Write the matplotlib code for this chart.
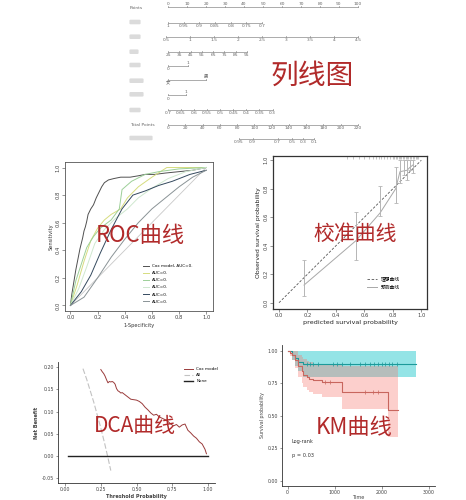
import matplotlib
matplotlib.use('Agg')
import matplotlib.pyplot as plt
from matplotlib.patches import FancyBboxPatch
import numpy as np

plt.rcParams['font.family'] = ['DejaVu Sans', 'Noto Sans CJK SC']

W, H = 466, 500
RED = '#b12a2a'

# ---------------- nomogram data ----------------
points_ticks = [0, 10, 20, 30, 40, 50, 60, 70, 80, 90, 100]
v1_ticks = [1, 0.95, 0.9, 0.85, 0.8, 0.75, 0.7]
v2_ticks = [0.5, 1, 1.5, 2, 2.5, 3, 3.5, 4, 4.5]
v3_ticks = [25, 35, 45, 55, 65, 75, 85, 95]
v4_labels = ['0', '1']
v5_labels = ['女', '男']
v6_labels = ['0', '1']
v7_ticks = [0.7, 0.65, 0.6, 0.55, 0.5, 0.45, 0.4, 0.35, 0.3]
total_ticks = [0, 20, 40, 60, 80, 100, 120, 140, 160, 180, 200, 220]
prob_labels = [0.95, 0.9, 0.7, 0.5, 0.3, 0.1]
prob_total = [82, 98, 127, 144, 156, 169]

# ---------------- ROC data ----------------
cox_fpr = [0, 0.01, 0.02, 0.03, 0.04, 0.05, 0.06, 0.07, 0.08, 0.09, 0.1, 0.11, 0.12, 0.13,
           0.15, 0.17, 0.19, 0.21, 0.23, 0.25, 0.28, 0.32, 0.37, 0.44, 0.5, 0.55, 0.62,
           0.7, 0.8, 0.9, 1.0]
cox_tpr = [0, 0.08, 0.14, 0.2, 0.26, 0.31, 0.36, 0.41, 0.45, 0.49, 0.54, 0.57, 0.61, 0.66,
           0.7, 0.73, 0.78, 0.82, 0.86, 0.89, 0.91, 0.92, 0.93, 0.93, 0.94, 0.95, 0.95,
           0.96, 0.97, 0.98, 1.0]
m2_fpr = [0, 0.05, 0.1, 0.15, 0.2, 0.25, 0.3, 0.37, 0.42, 0.5, 0.6, 0.71, 0.8, 1.0]
m2_tpr = [0, 0.15, 0.32, 0.47, 0.56, 0.62, 0.66, 0.7, 0.78, 0.86, 0.93, 1.0, 1.0, 1.0]
m3_fpr = [0, 0.04, 0.08, 0.12, 0.17, 0.22, 0.3, 0.36, 0.38, 0.45, 0.55, 0.65, 0.8, 1.0]
m3_tpr = [0, 0.18, 0.3, 0.42, 0.5, 0.56, 0.62, 0.7, 0.84, 0.9, 0.95, 0.97, 0.99, 1.0]
m4_fpr = [0, 0.06, 0.12, 0.18, 0.25, 0.33, 0.42, 0.5, 0.6, 0.72, 0.85, 1.0]
m4_tpr = [0, 0.12, 0.28, 0.45, 0.55, 0.63, 0.7, 0.78, 0.85, 0.92, 0.97, 1.0]
m5_fpr = [0, 0.08, 0.15, 0.22, 0.3, 0.38, 0.46, 0.55, 0.65, 0.75, 0.88, 1.0]
m5_tpr = [0, 0.1, 0.22, 0.38, 0.55, 0.7, 0.8, 0.83, 0.87, 0.9, 0.95, 0.98]
m6_fpr = [0, 0.1, 0.2, 0.3, 0.4, 0.5, 0.6, 0.7, 0.8, 0.9, 1.0]
m6_tpr = [0, 0.06, 0.2, 0.35, 0.48, 0.6, 0.7, 0.78, 0.86, 0.93, 0.98]
roc_names = ['Cox model, AUC=0.', 'AUC=0.', 'AUC=0.', 'AUC=0.', 'AUC=0.', 'AUC=0.']

# ---------------- calibration data ----------------
cal_pred = [0.176, 0.54, 0.71, 0.82, 0.85, 0.875, 0.90, 0.92, 0.945]
cal_obs = [0.124, 0.435, 0.63, 0.80, 0.92, 0.925, 0.93, 0.95, 0.97]
cal_lo = [0.05, 0.30, 0.61, 0.70, 0.84, 0.90, 0.86, 0.93, 0.91]
cal_hi = [0.30, 0.64, 0.82, 0.95, 1.0, 1.0, 1.0, 1.0, 1.0]
cal_rug = [0.48, 0.52, 0.56, 0.6, 0.63, 0.66, 0.68, 0.7, 0.72, 0.74, 0.76, 0.78, 0.8,
           0.81, 0.82, 0.83, 0.84, 0.85, 0.86, 0.87, 0.88, 0.89, 0.9, 0.91, 0.92,
           0.93, 0.94, 0.95, 0.96, 0.97, 0.98]

# ---------------- DCA data ----------------
dca_thr = [0.25, 0.26, 0.27, 0.28, 0.29, 0.30, 0.31, 0.32, 0.33, 0.34, 0.35, 0.36, 0.37,
           0.38, 0.39, 0.40, 0.42, 0.44, 0.46, 0.48, 0.50, 0.52, 0.54, 0.56, 0.58, 0.60,
           0.62, 0.64, 0.66, 0.68, 0.70, 0.72, 0.74, 0.76, 0.78, 0.80, 0.82, 0.84, 0.86,
           0.88, 0.90, 0.92, 0.94, 0.96, 0.98, 0.99]
dca_nb = [0.195, 0.19, 0.186, 0.18, 0.172, 0.165, 0.168, 0.167, 0.168, 0.166, 0.162, 0.152,
          0.147, 0.145, 0.142, 0.143, 0.138, 0.133, 0.128, 0.127, 0.126, 0.123, 0.118,
          0.11, 0.104, 0.097, 0.092, 0.094, 0.088, 0.085, 0.082, 0.078, 0.072, 0.068,
          0.071, 0.065, 0.07, 0.072, 0.058, 0.052, 0.045, 0.04, 0.032, 0.027, 0.015, 0.005]
all_thr = [0.125, 0.15, 0.2, 0.25, 0.28, 0.3, 0.32]
all_nb = [0.197, 0.174, 0.122, 0.063, 0.024, -0.004, -0.033]
none_thr = [0.02, 1.0]
none_nb = [0, 0]

# ---------------- KM data ----------------
red_t = [0, 50, 85, 155, 226, 297, 332, 403, 460, 545, 722, 1150, 2136, 2350]
red_s = [1.0, 0.985, 0.967, 0.929, 0.878, 0.84, 0.815, 0.797, 0.782, 0.771, 0.756, 0.685, 0.547, 0.547]
red_hi = [1.0, 1.0, 1.0, 0.995, 0.97, 0.95, 0.935, 0.92, 0.91, 0.9, 0.89, 0.885, 0.885, 0.885]
red_lo = [1.0, 0.96, 0.93, 0.87, 0.8, 0.75, 0.72, 0.7, 0.68, 0.665, 0.645, 0.55, 0.34, 0.34]
teal_t = [0, 85, 155, 226, 332, 2718]
teal_s = [1.0, 0.97, 0.94, 0.916, 0.895, 0.895]
teal_hi = [1.0, 1.0, 1.0, 1.0, 1.0, 1.0]
teal_lo = [1.0, 0.93, 0.88, 0.84, 0.80, 0.80]
teal_cens = [400, 470, 545, 650, 970, 1040, 1150, 1320, 1530, 1640, 1750, 1830, 1920,
             2000, 2070, 2140, 2210, 2310]
red_cens_t = [800, 900, 1640, 1820, 1920]
red_cens_s = [0.756, 0.756, 0.685, 0.685, 0.685]


def box(l, t, r, b):
    return [l / W, 1 - b / H, (r - l) / W, (b - t) / H]


fig = plt.figure(figsize=(W / 100, H / 100), dpi=100)

# ================= nomogram =================
PX = 1.9  # pixels per point
ax = fig.add_axes([0, 1 - 150 / H, 1, 150 / H])
ax.set_xlim(-168 / PX, (W - 168) / PX)
ax.set_ylim(150, 0)
ax.axis('off')
lc = '#8a8a8a'
tc = '#666666'
fs = 3.2
tk = 1.1


def lin_row(y, ticks, p0, p1, above=False):
    pos = np.linspace(p0, p1, len(ticks))
    ax.plot([pos[0], pos[-1]], [y, y], color=lc, lw=0.5)
    for p, v in zip(pos, ticks):
        ax.plot([p, p], [y, y - tk], color=lc, lw=0.5)
        if above:
            ax.text(p, y - tk - 0.3, f'{v:g}', fontsize=fs, color=tc, ha='center', va='bottom')
        else:
            ax.text(p, y + 1.0, f'{v:g}', fontsize=fs, color=tc, ha='center', va='top')


def cat_row(y, labels, pos):
    ax.plot([pos[0], pos[-1]], [y, y], color=lc, lw=0.5)
    for p in pos:
        ax.plot([p, p], [y, y - tk], color=lc, lw=0.5)
    ax.text(pos[0], y + 1.2, labels[0], fontsize=fs, color=tc, ha='center', va='top')
    ax.text(pos[-1], y - 1.3, labels[-1], fontsize=fs, color=tc, ha='center', va='bottom')


def blob(y, wpx):
    x0 = (130 - 168) / PX
    ax.add_patch(FancyBboxPatch((x0, y - 2.0), wpx / PX, 4.0,
                                boxstyle='round,pad=0.3,rounding_size=0.8',
                                fc='#cfcfcf', ec='none', alpha=0.75))


ax.text((130 - 168) / PX, 8, 'Points', fontsize=fs, color=tc, ha='left', va='center')
lin_row(7.3, points_ticks, 0, 100, above=True)
blob(22, 10)
lin_row(22.7, v1_ticks, 0, 49.5)
blob(36.7, 10)
lin_row(37.3, v2_ticks, -1, 100)
blob(51.7, 8)
lin_row(51.7, v3_ticks, 0, 41.6)
blob(65, 10)
cat_row(66, v4_labels, [0, 10.5])
blob(80.7, 13)
cat_row(80, v5_labels, [0, 20])
blob(94.3, 13)
cat_row(95.3, v6_labels, [0, 9.5])
blob(110, 10)
lin_row(110, v7_ticks, 0, 55)
ax.text((130 - 168) / PX, 125, 'Total Points', fontsize=fs, color=tc, ha='left', va='center')
tot_pos = [t * 100 / 220 for t in total_ticks]
ax.plot([tot_pos[0], tot_pos[-1]], [125, 125], color=lc, lw=0.5)
for p, v in zip(tot_pos, total_ticks):
    ax.plot([p, p], [125, 125 - tk], color=lc, lw=0.5)
    ax.text(p, 126.0, str(v), fontsize=fs, color=tc, ha='center', va='top')
blob(138, 22)
prob_pos = [t * 100 / 220 for t in prob_total]
ax.plot([prob_pos[0], prob_pos[-1]], [139.3, 139.3], color=lc, lw=0.5)
for p, v in zip(prob_pos, prob_labels):
    ax.plot([p, p], [139.3, 139.3 - tk], color=lc, lw=0.5)
    ax.text(p, 140.3, f'{v:g}', fontsize=fs, color=tc, ha='center', va='top')

# ================= ROC =================
ax = fig.add_axes(box(65, 162, 213, 311))
ax.plot([0, 1], [0, 1], color='#c8c8c8', lw=0.6)
roc_sets = [(cox_fpr, cox_tpr, '#505050'), (m2_fpr, m2_tpr, '#d6dc7e'),
            (m3_fpr, m3_tpr, '#9ccf98'), (m4_fpr, m4_tpr, '#cfe8cf'),
            (m5_fpr, m5_tpr, '#34495e'), (m6_fpr, m6_tpr, '#8a9396')]
for (fx_, ty_, c), name in zip(roc_sets, roc_names):
    ax.plot(fx_, ty_, color=c, lw=0.7, label=name)
ax.set_xlim(-0.04, 1.05)
ax.set_ylim(-0.04, 1.04)
ticks = [0, 0.2, 0.4, 0.6, 0.8, 1.0]
ax.set_xticks(ticks)
ax.set_xticklabels([f'{t:.1f}' for t in ticks])
ax.set_yticks(ticks)
ax.set_yticklabels([f'{t:.1f}' for t in ticks], rotation=90, va='center')
ax.tick_params(labelsize=3.8, length=2, width=0.4, pad=1.2, colors='#444444')
for s in ax.spines.values():
    s.set_linewidth(0.6)
    s.set_color('#555555')
ax.set_xlabel('1-Specificity', fontsize=3.6, labelpad=1.5, color='#333333')
ax.set_ylabel('Sensitivity', fontsize=3.6, labelpad=1.5, color='#333333')
ax.legend(loc='upper left', bbox_to_anchor=(0.50, 0.34), frameon=False, fontsize=3.0,
          handlelength=1.6, labelspacing=0.75, handletextpad=0.6)

# ================= calibration =================
ax = fig.add_axes(box(273, 156, 427, 309))
ax.plot([0, 1], [0, 1], color='#555555', lw=0.6, ls=(0, (3, 2)), label='理想曲线')
ax.plot(cal_pred, cal_obs, color='#a8a8a8', lw=0.7, label='预测曲线')
ax.errorbar(cal_pred, cal_obs,
            yerr=[np.subtract(cal_obs, cal_lo), np.subtract(cal_hi, cal_obs)],
            fmt='none', ecolor='#b5b5b5', elinewidth=0.7, capsize=1.5, capthick=0.6)
ax.vlines(cal_rug, 1.006, 1.03, color='#999999', lw=0.4)
ax.set_xlim(-0.042, 1.04)
ax.set_ylim(-0.044, 1.03)
ax.set_xticks(ticks)
ax.set_xticklabels([f'{t:.1f}' for t in ticks])
ax.set_yticks(ticks)
ax.set_yticklabels([f'{t:.1f}' for t in ticks], rotation=90, va='center')
ax.tick_params(labelsize=3.8, length=2, width=0.4, pad=1.2, colors='#444444')
for s in ax.spines.values():
    s.set_linewidth(0.9)
    s.set_color('#333333')
ax.set_xlabel('predicted survival probability', fontsize=4.6, labelpad=1.2, color='#222222')
ax.set_ylabel('Observed survival probability', fontsize=4.4, labelpad=1.5, color='#222222')
ax.legend(loc='upper left', bbox_to_anchor=(0.58, 0.24), frameon=False, fontsize=3.4,
          handlelength=2.2, labelspacing=0.7, handletextpad=0.8)

# ================= DCA =================
ax = fig.add_axes(box(58, 362, 215, 483))
ax.plot(dca_thr, dca_nb, color='#9a3b3b', lw=0.7, label='Cox model')
ax.plot(all_thr, all_nb, color='#c2c2c2', lw=0.8, ls=(0, (5, 2)), label='All')
ax.plot(none_thr, none_nb, color='#222222', lw=1.0, label='None')
ax.set_xlim(-0.05, 1.05)
ax.set_ylim(-0.061, 0.212)
xt = [0, 0.25, 0.5, 0.75, 1.0]
yt = [-0.05, 0, 0.05, 0.10, 0.15, 0.20]
ax.set_xticks(xt)
ax.set_xticklabels([f'{t:.2f}' for t in xt])
ax.set_yticks(yt)
ax.set_yticklabels([f'{t:.2f}' for t in yt])
ax.tick_params(labelsize=3.4, length=1.8, width=0.4, pad=1.2, colors='#444444')
for k in ['top', 'right']:
    ax.spines[k].set_visible(False)
for k in ['left', 'bottom']:
    ax.spines[k].set_linewidth(0.6)
    ax.spines[k].set_color('#333333')
ax.set_xlabel('Threshold Probability', fontsize=3.6, fontweight='bold', labelpad=1.0,
              color='#444444')
ax.set_ylabel('Net Benefit', fontsize=3.6, fontweight='bold', labelpad=1.5, color='#444444')
ax.legend(loc='upper left', bbox_to_anchor=(0.78, 0.99), frameon=False, fontsize=3.0,
          handlelength=2.2, labelspacing=0.5, handletextpad=0.7)

# ================= KM =================
ax = fig.add_axes(box(281.7, 345, 435, 486))
ax.fill_between(teal_t, teal_lo, teal_hi, step='post', color='#00BFC4', alpha=0.42, lw=0)
ax.fill_between(red_t, red_lo, red_hi, step='post', color='#F8766D', alpha=0.35, lw=0)
ax.step(teal_t, teal_s, where='post', color='#1c9a9a', lw=0.8)
ax.step(red_t, red_s, where='post', color='#c8665e', lw=0.8)
ax.plot(teal_cens, [0.895] * len(teal_cens), ls='none', marker='+', ms=2.2, mew=0.5,
        color='#1c9a9a')
ax.plot(red_cens_t, red_cens_s, ls='none', marker='+', ms=2.2, mew=0.5, color='#c8665e')
ax.text(85, 0.30, 'Log-rank', fontsize=3.6, color='#333333', ha='left', va='center')
ax.text(85, 0.196, 'p = 0.03', fontsize=3.6, color='#333333', ha='left', va='center')
ax.set_xlim(-127, 3127)
ax.set_ylim(-0.04, 1.043)
ax.set_xticks([0, 1000, 2000, 3000])
ax.set_yticks([0, 0.25, 0.5, 0.75, 1.0])
ax.set_yticklabels(['0.00', '0.25', '0.50', '0.75', '1.00'])
ax.tick_params(labelsize=3.4, length=1.8, width=0.4, pad=1.0, colors='#444444')
for k in ['top', 'right']:
    ax.spines[k].set_visible(False)
for k in ['left', 'bottom']:
    ax.spines[k].set_linewidth(0.6)
    ax.spines[k].set_color('#333333')
ax.set_xlabel('Time', fontsize=3.6, labelpad=0.3, color='#444444')
ax.set_ylabel('Survival probability', fontsize=3.4, labelpad=1.5, color='#444444')

# ================= red captions =================
cap = dict(color=RED, family=['Noto Sans CJK SC'], ha='center', va='center')
fig.text(312 / W, 1 - 76 / H, '列线图', fontsize=20, **cap)
fig.text(140 / W, 1 - 235 / H, 'ROC曲线', fontsize=16, **cap)
fig.text(355 / W, 1 - 234 / H, '校准曲线', fontsize=15, **cap)
fig.text(135 / W, 1 - 426 / H, 'DCA曲线', fontsize=15, **cap)
fig.text(354 / W, 1 - 427 / H, 'KM曲线', fontsize=16, **cap)

fig.savefig('out.png', dpi=100)
